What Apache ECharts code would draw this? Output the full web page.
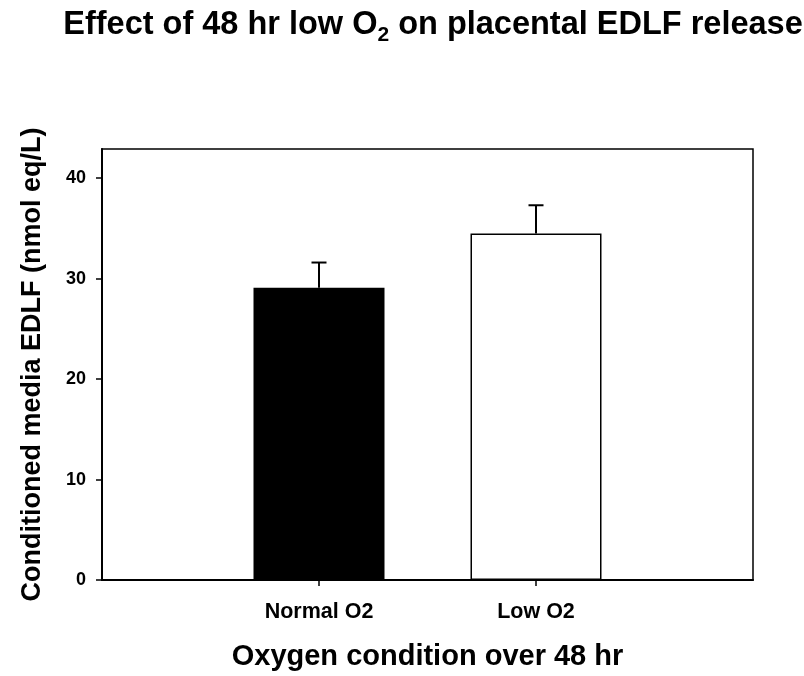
<!DOCTYPE html>
<html><head><meta charset="utf-8">
<script src="https://cdn.jsdelivr.net/npm/echarts@6/dist/echarts.min.js"></script>
<style>html,body{margin:0;padding:0;background:#fff}#c{width:804px;height:676px}</style>
</head><body><div id="c"></div>
<script>
const categories = ['', 'Normal O2', 'Low O2', ''];
const means = [null, 29.1, 34.5, null];
const errors = [null, 2.5, 2.8, null];
const barColors = ['#000', '#000000', '#ffffff', '#fff'];
const yTicks = [0, 10, 20, 30, 40];

const FONT = '"Liberation Sans", Arial, sans-serif';
const chart = echarts.init(document.getElementById('c'), null, {renderer: 'canvas'});

const barData = means.map((v, i) => v === null ? null : ({
  value: v,
  itemStyle: {color: barColors[i], borderColor: '#000', borderWidth: 1.5}
}));
const errData = means.map((v, i) => v === null ? null : [i, v, v + errors[i]]);

chart.setOption({
  backgroundColor: '#fff',
  animation: false,
  title: {
    text: 'Effect of 48 hr low O{sub|2} on placental EDLF release',
    left: 428, textAlign: 'center', top: 0,
    textStyle: {
      fontFamily: FONT, fontWeight: 'bold', fontSize: 32.5, color: '#000',
      rich: {
        sub: {fontFamily: FONT, fontWeight: 'bold', fontSize: 21, color: '#000', verticalAlign: 'bottom', padding: [20, 0, 0, 0]}
      }
    }
  },
  grid: {left: 102, right: 51, top: 149, bottom: 88, show: true, borderColor: '#000', borderWidth: 1.5, containLabel: false},
  xAxis: {
    type: 'category', data: categories, boundaryGap: false,
    axisLine: {lineStyle: {color: '#000', width: 2}},
    axisTick: {length: 6, lineStyle: {color: '#000', width: 1.5}, interval: (i, v) => v !== ''},
    axisLabel: {interval: 0, color: '#000', fontFamily: FONT, fontWeight: 'bold', fontSize: 21.5, margin: 21},
    name: 'Oxygen condition over 48 hr', nameLocation: 'middle', nameGap: 62,
    nameTextStyle: {fontFamily: FONT, fontWeight: 'bold', fontSize: 29, color: '#000'},
    splitLine: {show: false}
  },
  yAxis: {
    type: 'value', min: 0, max: 42.9, interval: 10,
    axisLine: {show: true, lineStyle: {color: '#000', width: 2}},
    axisTick: {show: true, length: 6, lineStyle: {color: '#000', width: 1.5}, customValues: yTicks},
    axisLabel: {color: '#000', fontFamily: FONT, fontWeight: 'bold', fontSize: 18, margin: 16, customValues: yTicks,
      formatter: v => yTicks.includes(v) ? String(v) : ''},
    splitLine: {show: false},
    name: 'Conditioned media EDLF (nmol eq/L)', nameLocation: 'middle', nameGap: 56, nameRotate: 90,
    nameTextStyle: {fontFamily: FONT, fontWeight: 'bold', fontSize: 27, color: '#000'}
  },
  series: [
    {
      type: 'bar', data: barData, barWidth: 131, z: 2
    },
    {
      type: 'custom', z: 3,
      data: errData.filter(d => d !== null),
      renderItem: function (params, api) {
        const x = api.value(0);
        const lo = api.coord([x, api.value(1)]);
        const hi = api.coord([x, api.value(2)]);
        const hw = 7.5;
        return {
          type: 'group',
          children: [
            {type: 'line', shape: {x1: lo[0], y1: lo[1], x2: hi[0], y2: hi[1]}, style: {stroke: '#000', lineWidth: 2}},
            {type: 'line', shape: {x1: hi[0] - hw, y1: hi[1], x2: hi[0] + hw, y2: hi[1]}, style: {stroke: '#000', lineWidth: 2}}
          ]
        };
      }
    }
  ]
});
</script></body></html>
